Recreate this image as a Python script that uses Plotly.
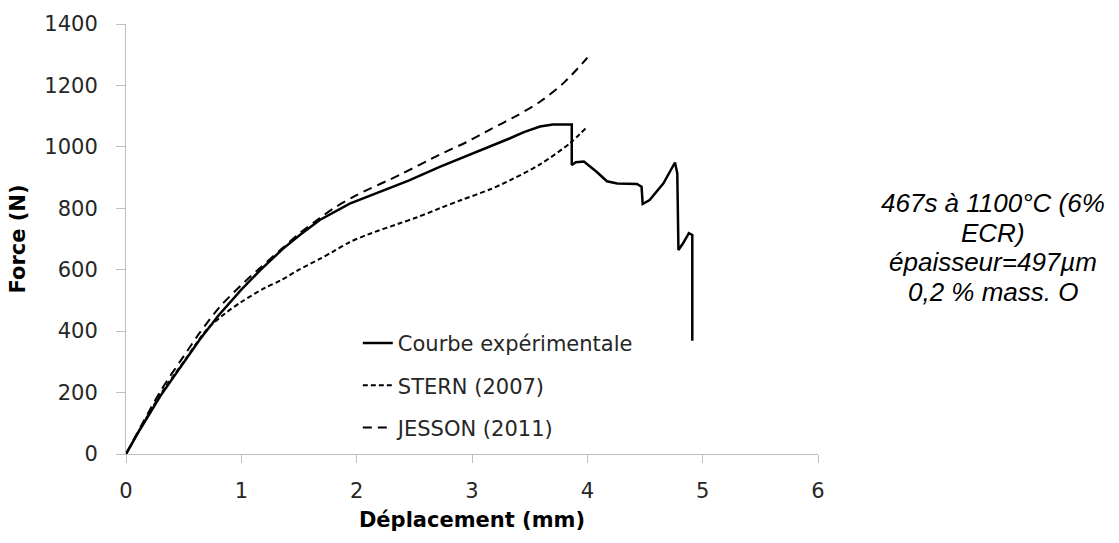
import plotly.graph_objects as go

# Experimental force-displacement curve
exp_x = [0, 0.12, 0.3, 0.5, 0.64, 0.8, 1.0, 1.16, 1.36, 1.51, 1.68, 1.94, 2.23,
         2.45, 2.72, 2.9, 3.16, 3.33, 3.45, 3.59, 3.7, 3.865, 3.865, 3.9, 3.97,
         4.08, 4.17, 4.26, 4.43, 4.47, 4.48, 4.54, 4.66, 4.76, 4.78, 4.79,
         4.83, 4.88, 4.91, 4.91]
exp_y = [0, 79, 190, 300, 373, 450, 535, 597, 668, 714, 762, 815, 857,
         890, 935, 962, 1001, 1028, 1048, 1066, 1073, 1073, 941, 950, 952,
         919, 888, 881, 879, 870, 814, 827, 881, 949, 914, 664,
         686, 719, 713, 369]

# STERN (2007) model
stern_x = [0, 0.3, 0.5, 0.7, 0.85, 1.0, 1.2, 1.34, 1.5, 1.68, 1.8, 1.94, 2.1,
           2.38, 2.52, 2.72, 2.9, 3.16, 3.35, 3.59, 3.85, 4.0]
stern_y = [0, 195, 300, 405, 455, 495, 540, 565, 600, 635, 660, 690, 715,
           752, 770, 800, 826, 862, 895, 943, 1012, 1066]

# JESSON (2011) model
jesson_x = [0, 0.3, 0.53, 0.64, 0.815, 1.0, 1.16, 1.34, 1.51, 1.68, 1.8, 2.0,
            2.38, 2.72, 2.95, 3.16, 3.39, 3.59, 3.8, 4.0]
jesson_y = [0, 205, 335, 395, 480, 550, 605, 665, 720, 768, 800, 843,
            910, 975, 1015, 1057, 1102, 1147, 1210, 1290]

note_lines = ["467s à 1100°C (6%", "ECR)", "épaisseur=497µm", "0,2 % mass. O"]

FONT = "DejaVu Sans"
AXIS_GRAY = "#bfbfbf"
TEXT = "#262626"

fig = go.Figure()
fig.add_trace(go.Scatter(x=exp_x, y=exp_y, mode="lines", name="Courbe expérimentale",
                         legendgroup="a",
                         line=dict(color="black", width=2.5)))
fig.add_trace(go.Scatter(x=stern_x, y=stern_y, mode="lines", name="STERN (2007)",
                         legendgroup="b",
                         line=dict(color="black", width=2, dash="5px,3px",
                                   shape="spline", smoothing=0.8)))
fig.add_trace(go.Scatter(x=jesson_x, y=jesson_y, mode="lines", name="JESSON (2011)",
                         legendgroup="c",
                         line=dict(color="black", width=2, dash="9px,6px",
                                   shape="spline", smoothing=0.8)))

for i, line in enumerate(note_lines):
    fig.add_annotation(text=line, xref="paper", yref="paper",
                       x=1.253, y=0.584 - i * 0.069, xanchor="center", yanchor="middle",
                       showarrow=False,
                       font=dict(family="Liberation Sans, Arial", size=26,
                                 color="black", style="italic"))

fig.update_layout(
    width=1119, height=543,
    margin=dict(l=126, r=301, t=24, b=89),
    plot_bgcolor="white", paper_bgcolor="white",
    font=dict(family=FONT, color=TEXT, size=21),
    showlegend=True,
    legend=dict(x=0.335, y=0.305, xanchor="left", yanchor="top",
                bgcolor="rgba(0,0,0,0)", tracegroupgap=12,
                font=dict(family=FONT, size=21, color=TEXT)),
    xaxis=dict(range=[0, 6], dtick=1, showgrid=False, zeroline=False,
               showline=True, linecolor=AXIS_GRAY, linewidth=1,
               ticks="outside", ticklen=8, tickcolor=AXIS_GRAY,
               ticklabelstandoff=10,
               tickfont=dict(family=FONT, size=21, color=TEXT),
               title=dict(text="<b>Déplacement (mm)</b>",
                          font=dict(family=FONT, size=21, color="black"),
                          standoff=10)),
    yaxis=dict(range=[0, 1400], dtick=200, showgrid=False, zeroline=False,
               showline=True, linecolor=AXIS_GRAY, linewidth=1,
               ticks="outside", ticklen=9, tickcolor=AXIS_GRAY,
               ticklabelstandoff=14,
               tickfont=dict(family=FONT, size=21, color=TEXT),
               title=dict(text="<b>Force (N)</b>",
                          font=dict(family=FONT, size=21, color="black"),
                          standoff=12)),
)

fig.write_html("out.html")
